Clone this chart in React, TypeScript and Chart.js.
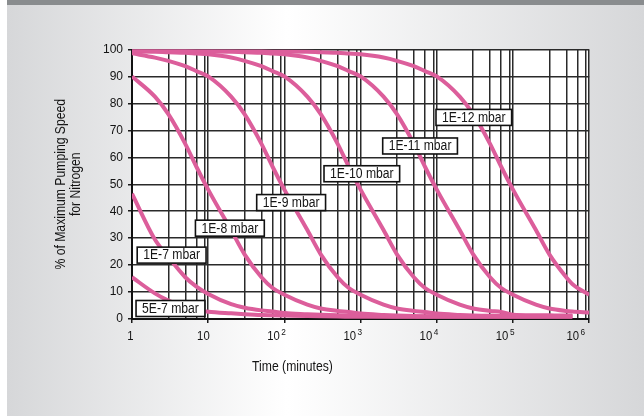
import React, { useEffect, useRef } from "react";
import { Chart, registerables } from "chart.js";
Chart.register(...registerables);

// Time grid (minutes)
const times = [
  1, 2, 3, 5, 7,
  10, 20, 30, 50, 70,
  100, 200, 300, 500, 700,
  1000, 2000, 3000, 5000, 7000,
  10000, 20000, 30000, 50000, 70000,
  100000, 200000, 300000, 500000, 600000,
  1000000,
];

// % of maximum pumping speed for nitrogen, per pressure
const p1e12 = [99.5, 99.5, 99.5, 99.5, 99.5, 99.5, 99.4, 99.4, 99.4, 99.3, 99.3, 99.2, 99.0, 98.8, 98.5, 98.2, 97.0, 95.8, 93.8, 92.0, 90, 82.5, 76, 65, 56.5, 48, 33, 24, 15.5, 13.0, 9.0];
const p1e11 = [99.5, 99.4, 99.4, 99.4, 99.3, 99.3, 99.2, 99.0, 98.8, 98.5, 98.2, 97.0, 95.8, 93.8, 92.0, 90, 82.5, 76, 65, 56.5, 48, 33, 24, 15.5, 11.5, 9.0, 5.3, 3.9, 3.0, 2.8, 2.4];
const p1e10 = [99.3, 99.2, 99.0, 98.8, 98.5, 98.2, 97.0, 95.8, 93.8, 92.0, 90, 82.5, 76, 65, 56.5, 48, 33, 24, 15.5, 11.5, 9.0, 5.3, 3.9, 3.0, 2.6, 1.6, 1.4, 1.35, 1.3, 1.3];
const p1e9 = [98.6, 97.0, 95.8, 93.8, 92.0, 90, 82.5, 76, 65, 56.5, 48, 33, 24, 15.5, 11.5, 9.0, 5.3, 3.9, 3.0, 2.6, 2.0, 1.5, 1.3, 1.2, 1.15, 1.15, 1.15, 1.15, 1.15, 1.15];
const p1e8 = [90, 82.5, 76, 65, 56.5, 48, 33, 24, 15.5, 11.5, 9.0, 5.3, 3.9, 3.0, 2.6, 2.0, 1.5, 1.3, 1.1, 1.0, 1.0, 1.0, 1.0, 1.0, 1.0, 1.0, 1.0, 1.0, 1.0, 1.0];
const p1e7 = [46.5, 29.5, 23.0, 15.5, 12.0, 9.3, 5.5, 4.2, 3.2, 2.8, 2.2, 1.8, 1.6, 1.4, 1.3, 1.2, 1.0, 0.95, 0.9, 0.9, 0.9, 0.9, 0.9, 0.9, 0.9, 0.9, 0.9, 0.9, 0.9, 0.9];
const p5e7 = [15.5, 9.5, 6.8, 4.3, 3.3, 2.7, 2.1, 1.8, 1.5, 1.4, 1.3, 1.1, 1.0, 0.9, 0.85, 0.8, 0.8, 0.8, 0.8, 0.8, 0.8, 0.8, 0.8, 0.8, 0.8, 0.8, 0.8, 0.8, 0.8, 0.8];

const seriesValues = [p1e12, p1e11, p1e10, p1e9, p1e8, p1e7, p5e7];

// Curve labels (text, anchor time, anchor %)
const labelTexts = ["1E-12 mbar", "1E-11 mbar", "1E-10 mbar", "1E-9 mbar", "1E-8 mbar", "1E-7 mbar", "5E-7 mbar"];
const labelTimes = [9760, 1950, 331, 43.3, 6.8, 1.17, 1.13];
const labelValues = [74.8, 64.2, 53.9, 43.2, 33.7, 23.7, 3.9];

// Axis ticks
const gridTimes = [
  1, 3, 5, 7, 9,
  10, 30, 50, 70, 90,
  100, 300, 500, 700, 900,
  1000, 3000, 5000, 7000, 9000,
  10000, 30000, 50000, 70000, 90000,
  100000, 300000, 500000, 700000, 900000,
  1000000,
];
const xTickValues = [1, 10, 100, 1000, 10000, 100000, 1000000];
const xTickBases = ["1", "10", "10", "10", "10", "10", "10"];
const xTickExponents = ["", "", "2", "3", "4", "5", "6"];
const yTitleLines = ["% of Maximum Pumping Speed", "for Nitrogen"];
const xTitle = "Time (minutes)";

const FONT = "'Liberation Sans', Arial, Helvetica, sans-serif";
const PINK = "#dc5e9b";
const INK = "#141414";
const SQUEEZE = 0.87;

function decadeIndex(v: number): number {
  const l = Math.log10(v);
  const r = Math.round(l);
  return Math.abs(l - r) < 1e-6 ? r : -1;
}

function condensedText(ctx: CanvasRenderingContext2D, text: string, x: number, y: number) {
  ctx.save();
  ctx.translate(x, y);
  ctx.scale(SQUEEZE, 1);
  ctx.fillText(text, 0, 0);
  ctx.restore();
}

export default function App() {
  const ref = useRef<HTMLCanvasElement | null>(null);

  useEffect(() => {
    document.body.style.margin = "0";
    const canvas = ref.current;
    if (!canvas) return;

    const decorPlugin = {
      id: "decor",
      beforeDraw(chart: any) {
        const { ctx, chartArea } = chart;
        ctx.save();
        ctx.fillStyle = "#ffffff";
        ctx.fillRect(chartArea.left, chartArea.top, chartArea.right - chartArea.left, chartArea.bottom - chartArea.top);
        ctx.restore();
      },
      afterDatasetsDraw(chart: any) {
        const { ctx, scales } = chart;
        ctx.save();
        ctx.font = `14px ${FONT}`;
        ctx.textBaseline = "middle";
        ctx.textAlign = "left";
        for (let i = 0; i < labelTexts.length; i++) {
          const x = scales.x.getPixelForValue(labelTimes[i]);
          const y = scales.y.getPixelForValue(labelValues[i]);
          const w = ctx.measureText(labelTexts[i]).width * SQUEEZE + 12;
          const h = 16;
          ctx.fillStyle = "#ffffff";
          ctx.fillRect(x, y - h / 2, w, h);
          ctx.lineWidth = 1.6;
          ctx.strokeStyle = "#111111";
          ctx.strokeRect(x, y - h / 2, w, h);
          ctx.fillStyle = INK;
          condensedText(ctx, labelTexts[i], x + 6, y + 0.5);
        }
        ctx.restore();
      },
      afterDraw(chart: any) {
        const { ctx, chartArea, scales } = chart;
        ctx.save();
        ctx.fillStyle = INK;
        // x tick labels with superscript exponents
        ctx.textAlign = "left";
        ctx.textBaseline = "alphabetic";
        const baseY = chartArea.bottom + 21;
        for (let i = 0; i < xTickValues.length; i++) {
          const px = scales.x.getPixelForValue(xTickValues[i]);
          ctx.font = `13px ${FONT}`;
          const bw = ctx.measureText(xTickBases[i]).width * SQUEEZE;
          ctx.font = `9.5px ${FONT}`;
          const ew = xTickExponents[i] ? ctx.measureText(xTickExponents[i]).width * SQUEEZE + 1.5 : 0;
          const right = i === xTickValues.length - 1 ? px - 4 : px + 1.5;
          const left = right - bw - ew;
          ctx.font = `13px ${FONT}`;
          condensedText(ctx, xTickBases[i], left, baseY);
          if (xTickExponents[i]) {
            ctx.font = `9.5px ${FONT}`;
            condensedText(ctx, xTickExponents[i], left + bw + 1.5, baseY - 5.5);
          }
        }
        // axis titles
        ctx.font = `14px ${FONT}`;
        ctx.textAlign = "center";
        ctx.textBaseline = "middle";
        const cy = (chartArea.top + chartArea.bottom) / 2;
        ctx.save();
        ctx.translate(61, cy);
        ctx.rotate(-Math.PI / 2);
        condensedText(ctx, yTitleLines[0], 0, 0);
        condensedText(ctx, yTitleLines[1], 0, 15);
        ctx.restore();
        condensedText(ctx, xTitle, 292.5, 367);
        ctx.restore();
      },
    };

    const chart = new Chart(canvas, {
      type: "line",
      data: {
        datasets: seriesValues.map((vals, i) => ({
          label: labelTexts[i],
          data: vals.map((v, j) => ({ x: times[j], y: v })),
          borderColor: PINK,
          backgroundColor: PINK,
          borderWidth: 4,
          pointRadius: 0,
          fill: false,
          cubicInterpolationMode: "monotone" as const,
        })),
      },
      options: {
        animation: false,
        responsive: false,
        devicePixelRatio: 1,
        layout: { padding: { left: 0, right: 54.8, top: 49.5, bottom: 0 } },
        plugins: {
          legend: { display: false },
          tooltip: { enabled: false },
          title: { display: false },
        },
        scales: {
          x: {
            type: "logarithmic",
            min: 1,
            max: 1000000,
            afterBuildTicks: (scale: any) => {
              scale.ticks = gridTimes.map((v) => ({ value: v }));
            },
            afterFit: (scale: any) => {
              scale.height = 98;
            },
            ticks: { display: false, autoSkip: false, maxRotation: 0 },
            grid: {
              color: "#2a2a2a",
              lineWidth: 1.5,
              tickLength: 4,
              tickColor: (ctx: any) =>
                ctx.tick && decadeIndex(ctx.tick.value) >= 0 ? "#1a1a1a" : "rgba(0,0,0,0)",
            },
            border: { display: true, color: "#111111", width: 2 },
          },
          y: {
            min: 0,
            max: 100,
            afterFit: (scale: any) => {
              scale.width = 132;
            },
            ticks: {
              stepSize: 10,
              padding: 5,
              color: INK,
              font: { family: FONT, size: 12 },
            },
            grid: { color: "#2a2a2a", lineWidth: 1.5, tickLength: 4, tickColor: "#1a1a1a" },
            border: { display: true, color: "#111111", width: 2 },
          },
        },
      },
      plugins: [decorPlugin],
    } as any);

    return () => chart.destroy();
  }, []);

  return (
    <div style={{ position: "relative", width: 644, height: 417, background: "#ffffff", overflow: "hidden" }}>
      <div
        style={{
          position: "absolute",
          left: 7,
          top: 0,
          width: 637,
          height: 416,
          background: "linear-gradient(to right, #d6d7d9 0%, #ffffff 44%, #d6d7d9 100%)",
        }}
      />
      <div style={{ position: "absolute", left: 7, top: 0, width: 637, height: 5, background: "#898c8e" }} />
      <canvas ref={ref} width={644} height={417} style={{ position: "absolute", left: 0, top: 0, width: 644, height: 417 }} />
    </div>
  );
}
